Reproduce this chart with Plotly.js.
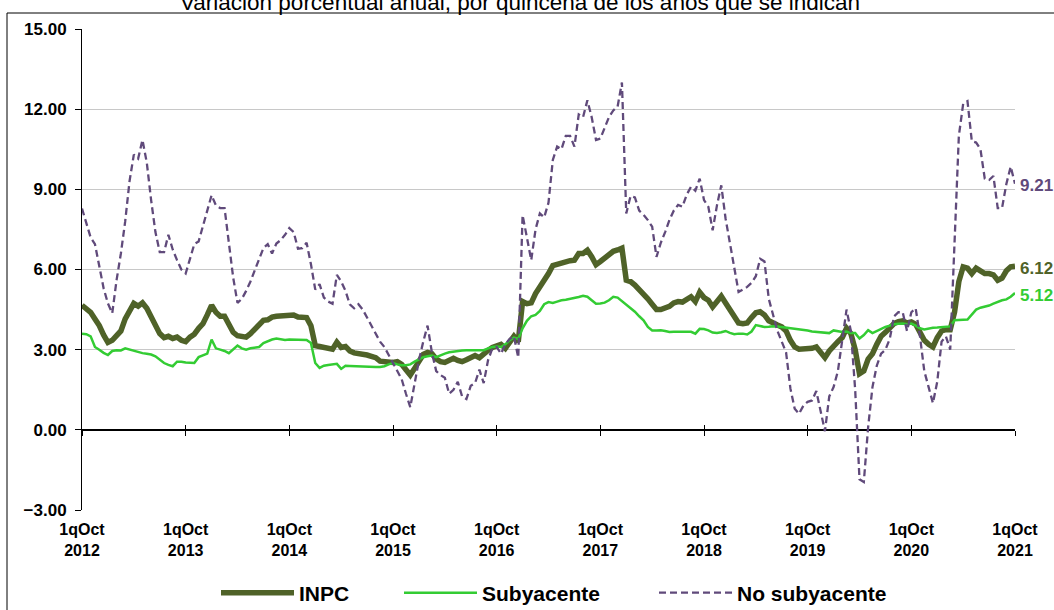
<!DOCTYPE html>
<html>
<head>
<meta charset="utf-8">
<script src="https://cdn.plot.ly/plotly-3.0.1.min.js"></script>
<style>html,body{margin:0;padding:0;background:#fff;}#chart{width:1054px;height:610px;}</style>
</head>
<body>
<div id="chart"></div>
<script>
// Variación porcentual anual, por quincena (1qOct 2012 ... 1qOct 2021)
const tickYears = [2012, 2013, 2014, 2015, 2016, 2017, 2018, 2019, 2020, 2021];
const tickLabels = tickYears.map(y => '1qOct<br>' + y);
const yTicks = [-3, 0, 3, 6, 9, 12, 15];

const inpc = [
  4.66, 4.55, 4.40, 4.15, 3.90, 3.55, 3.27, 3.35, 3.50, 3.70, 4.15, 4.50, 4.73, 4.63, 4.75, 4.55, 4.20, 3.90, 3.60, 3.45, 3.50, 3.42, 3.47, 3.35,
  3.30, 3.47, 3.58, 3.80, 3.97, 4.30, 4.66, 4.40, 4.25, 4.25, 3.90, 3.65, 3.52, 3.47, 3.47, 3.60, 3.78, 3.95, 4.10, 4.12, 4.22, 4.25, 4.27, 4.30,
  4.32, 4.30, 4.22, 4.20, 4.20, 3.90, 3.15, 3.12, 3.10, 3.05, 3.02, 3.28, 3.08, 3.12, 2.95, 2.88, 2.87, 2.85, 2.80, 2.75, 2.70, 2.57, 2.55, 2.52,
  2.52, 2.55, 2.45, 2.25, 2.05, 2.30, 2.60, 2.82, 2.90, 2.85, 2.65, 2.55, 2.52, 2.60, 2.68, 2.60, 2.55, 2.62, 2.70, 2.78, 2.70, 2.85, 2.97, 3.08,
  3.12, 3.20, 3.05, 3.30, 3.50, 3.30, 4.80, 4.72, 4.75, 5.10, 5.35, 5.55, 5.85, 6.15, 6.20, 6.25, 6.33, 6.33, 6.35, 6.60, 6.60, 6.72, 6.48, 6.18,
  6.30, 6.45, 6.60, 6.68, 6.73, 6.80, 5.60, 5.55, 5.42, 5.25, 5.12, 4.90, 4.70, 4.50, 4.50, 4.55, 4.62, 4.75, 4.80, 4.78, 4.88, 4.98, 4.80, 5.15,
  4.95, 4.85, 4.60, 4.80, 5.00, 4.75, 4.47, 4.25, 4.00, 3.97, 4.00, 4.20, 4.38, 4.42, 4.30, 4.08, 3.98, 3.92, 3.85, 3.70, 3.35, 3.10, 3.02, 3.02,
  3.02, 3.05, 3.10, 2.90, 2.70, 2.95, 3.15, 3.30, 3.45, 3.80, 3.60, 3.00, 2.10, 2.20, 2.65, 2.85, 3.20, 3.50, 3.65, 3.80, 3.98, 4.05, 4.08, 4.00,
  4.04, 3.95, 3.60, 3.35, 3.20, 3.10, 3.45, 3.70, 3.75, 3.75, 4.40, 5.55, 6.10, 6.05, 5.85, 6.05, 5.95, 5.85, 5.85, 5.80, 5.60, 5.68, 5.95, 6.10, 6.12
];

const subyacente = [
  3.60, 3.58, 3.50, 3.10, 3.00, 2.88, 2.80, 2.95, 2.98, 2.97, 3.05, 3.00, 2.97, 2.90, 2.87, 2.85, 2.82, 2.75, 2.62, 2.50, 2.43, 2.38, 2.55, 2.55,
  2.52, 2.50, 2.50, 2.72, 2.78, 2.85, 3.38, 3.05, 3.00, 2.95, 2.87, 3.00, 3.15, 3.05, 3.00, 3.05, 3.08, 3.10, 3.25, 3.32, 3.38, 3.42, 3.38, 3.36,
  3.38, 3.37, 3.36, 3.35, 3.36, 3.25, 2.50, 2.32, 2.40, 2.43, 2.45, 2.47, 2.28, 2.40, 2.39, 2.38, 2.37, 2.36, 2.36, 2.35, 2.35, 2.35, 2.38, 2.45,
  2.50, 2.45, 2.42, 2.42, 2.45, 2.55, 2.65, 2.72, 2.75, 2.78, 2.72, 2.80, 2.85, 2.90, 2.93, 2.95, 2.97, 2.98, 2.98, 2.98, 2.97, 2.98, 3.05, 3.10,
  3.12, 3.10, 3.20, 3.35, 3.45, 3.40, 3.80, 4.08, 4.25, 4.30, 4.45, 4.70, 4.78, 4.75, 4.80, 4.85, 4.87, 4.90, 4.92, 4.97, 5.02, 4.98, 4.85, 4.72,
  4.73, 4.76, 4.85, 4.98, 4.95, 4.82, 4.70, 4.58, 4.42, 4.25, 4.10, 3.85, 3.72, 3.72, 3.73, 3.70, 3.66, 3.67, 3.67, 3.65, 3.66, 3.67, 3.60, 3.78,
  3.77, 3.72, 3.64, 3.62, 3.65, 3.70, 3.63, 3.58, 3.60, 3.60, 3.57, 3.68, 3.92, 3.88, 3.85, 3.86, 3.88, 3.87, 3.85, 3.82, 3.80, 3.80, 3.78, 3.74,
  3.72, 3.68, 3.66, 3.65, 3.62, 3.62, 3.72, 3.70, 3.66, 3.68, 3.62, 3.62, 3.42, 3.55, 3.73, 3.62, 3.70, 3.78, 3.85, 3.90, 3.95, 3.97, 3.98, 3.95,
  3.98, 3.90, 3.80, 3.76, 3.80, 3.82, 3.83, 3.84, 3.86, 3.87, 4.10, 4.12, 4.12, 4.13, 4.30, 4.50, 4.57, 4.60, 4.65, 4.72, 4.78, 4.85, 4.88, 4.98, 5.12
];

const noSubyacente = [
  8.28, 7.70, 7.20, 6.95, 6.10, 5.30, 4.73, 4.36, 5.60, 6.60, 7.80, 9.30, 10.30, 10.15, 10.85, 10.00, 8.60, 7.40, 6.65, 6.65, 7.30, 6.75, 6.35, 6.00,
  5.85, 6.40, 6.95, 7.05, 7.60, 8.20, 8.78, 8.40, 8.30, 8.30, 7.00, 5.70, 4.75, 4.90, 5.20, 5.55, 5.97, 6.40, 6.80, 6.95, 6.60, 6.97, 7.10, 7.30,
  7.55, 7.40, 6.78, 6.80, 7.00, 6.20, 5.25, 5.45, 4.95, 4.80, 4.72, 5.80, 5.55, 5.20, 4.70, 4.55, 4.70, 4.50, 4.20, 3.90, 3.60, 3.30, 3.10, 2.80,
  2.55, 2.20, 1.90, 1.35, 0.85, 1.73, 2.60, 3.30, 3.90, 2.90, 2.20, 2.05, 1.95, 1.35, 1.50, 1.80, 1.25, 1.15, 1.65, 1.75, 2.25, 1.75, 2.60, 3.05,
  3.10, 2.85, 3.20, 3.40, 3.50, 2.70, 8.03, 7.20, 6.35, 7.50, 8.10, 7.95, 8.50, 10.10, 10.60, 10.50, 11.00, 11.00, 10.60, 11.80, 11.70, 12.33, 11.70, 10.85,
  10.90, 11.30, 11.70, 11.95, 12.10, 13.00, 8.10, 8.75, 8.70, 8.20, 8.05, 7.85, 7.60, 6.47, 7.00, 7.40, 7.85, 8.20, 8.42, 8.35, 8.80, 9.10, 8.95, 9.40,
  8.60, 8.35, 7.47, 8.40, 9.15, 7.90, 7.00, 6.20, 5.16, 5.25, 5.35, 5.50, 5.75, 6.40, 6.30, 4.90, 4.30, 3.70, 3.30, 2.90, 1.55, 0.79, 0.60, 0.90,
  1.05, 1.10, 1.45, 0.70, -0.05, 1.25, 1.60, 2.20, 3.40, 4.50, 3.70, 1.50, -1.85, -1.95, 0.10, 1.60, 2.40, 2.85, 3.00, 3.40, 4.25, 4.40, 4.40, 3.70,
  4.40, 4.55, 3.50, 2.20, 1.60, 1.00, 1.80, 3.30, 3.50, 3.00, 7.00, 11.00, 12.20, 12.30, 10.80, 10.75, 10.50, 9.40, 9.35, 9.50, 8.30, 8.30, 9.20, 9.85, 9.21
];

const FONT = 'Liberation Sans, Arial, sans-serif';
const C_INPC = '#4F6228', C_SUB = '#33CC33', C_NOSUB = '#604A7B';
const qIndex = inpc.map((_, i) => i);
const tickVals = tickYears.map((_, j) => j * 24);
const xMax = qIndex[qIndex.length - 1];

const traces = [
  {x: qIndex, y: inpc, name: 'INPC', type: 'scatter', mode: 'lines',
   line: {color: C_INPC, width: 5.5}, legend: 'legend'},
  {x: qIndex, y: subyacente, name: 'Subyacente', type: 'scatter', mode: 'lines',
   line: {color: C_SUB, width: 2.5}, legend: 'legend2'},
  {x: qIndex, y: noSubyacente, name: 'No subyacente', type: 'scatter', mode: 'lines',
   line: {color: C_NOSUB, width: 2.3, dash: '7px,4px'}, legend: 'legend3'},
  // empty helper traces so the tick-only axes on the zero line are drawn
  {x: [], y: [], xaxis: 'x2', yaxis: 'y', type: 'scatter', mode: 'lines', showlegend: false, hoverinfo: 'skip'},
  {x: [], y: [], xaxis: 'x3', yaxis: 'y', type: 'scatter', mode: 'lines', showlegend: false, hoverinfo: 'skip'}
];

const series = [[inpc, C_INPC], [subyacente, C_SUB], [noSubyacente, C_NOSUB]];
const endLabels = series.map(([arr, col]) => ({
  x: xMax, y: arr[arr.length - 1], xref: 'x', yref: 'y',
  text: arr[arr.length - 1].toFixed(2), showarrow: false,
  xanchor: 'left', yanchor: 'middle', xshift: 3, yshift: -2,
  font: {family: FONT, size: 17, color: col, weight: 'bold'}
}));

const legendBase = {
  orientation: 'h', xanchor: 'left', yref: 'container', y: 17 / 610, yanchor: 'middle',
  bgcolor: 'rgba(0,0,0,0)', itemwidth: 73,
  font: {family: FONT, size: 21, color: '#000', weight: 'bold'}
};

const tickAxis = {
  overlaying: 'x', anchor: 'free', position: 1 / 6, range: [0, xMax],
  tickmode: 'array', tickvals: tickVals, showticklabels: false,
  ticklen: 5, tickwidth: 1, tickcolor: '#000',
  showline: false, showgrid: false, zeroline: false
};

const layout = {
  width: 1054, height: 610,
  margin: {l: 82, r: 39, t: 29, b: 100, pad: 0},
  paper_bgcolor: '#fff', plot_bgcolor: '#fff',
  showlegend: true,
  title: {
    text: 'Variación porcentual anual, por quincena de los años que se indican',
    font: {family: FONT, size: 22.5, color: '#000'},
    xref: 'container', x: 520 / 1054, xanchor: 'center',
    yref: 'container', y: 1 - 10 / 610, yanchor: 'bottom'
  },
  xaxis: {
    range: [0, xMax], tickmode: 'array', tickvals: tickVals, ticktext: tickLabels,
    ticks: '', showline: false, showgrid: false, zeroline: false,
    ticklabelstandoff: 8,
    tickfont: {family: FONT, size: 16, color: '#000', weight: 'bold'}
  },
  xaxis2: Object.assign({}, tickAxis, {ticks: 'outside'}),
  xaxis3: Object.assign({}, tickAxis, {ticks: 'inside'}),
  yaxis: {
    range: [-3, 15], tickmode: 'array', tickvals: yTicks, tickformat: '.2f',
    showgrid: true, gridcolor: '#c8c8c8', gridwidth: 1,
    showline: true, linecolor: '#000', linewidth: 1,
    ticks: 'outside', ticklen: 6, tickcolor: '#000',
    zeroline: true, zerolinecolor: '#000', zerolinewidth: 1.5,
    ticklabelstandoff: 5,
    tickfont: {family: FONT, size: 17, color: '#000', weight: 'bold'}
  },
  legend: Object.assign({}, legendBase, {x: (216 - 82) / 933}),
  legend2: Object.assign({}, legendBase, {x: (399 - 82) / 933}),
  legend3: Object.assign({}, legendBase, {x: (654 - 82) / 933}),
  annotations: endLabels,
  shapes: [{
    type: 'rect', xref: 'paper', yref: 'paper',
    x0: (7 - 82) / 933, x1: (1070 - 82) / 933,
    y0: (510 - 640) / 481, y1: (510 - 13) / 481,
    line: {color: '#000', width: 1}, fillcolor: 'rgba(0,0,0,0)', layer: 'below'
  }]
};

Plotly.newPlot('chart', traces, layout, {displayModeBar: false, staticPlot: true});
</script>
</body>
</html>
